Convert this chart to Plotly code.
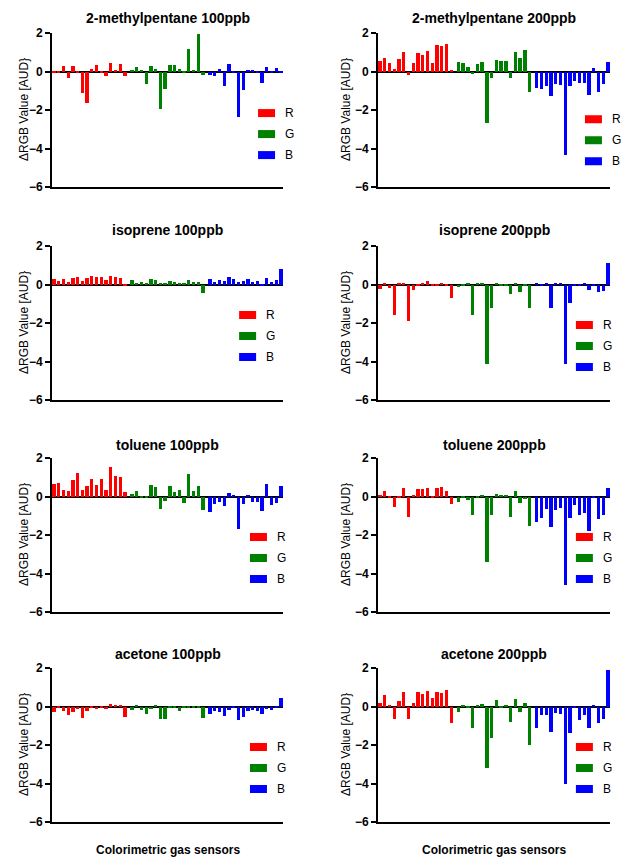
import plotly.graph_objects as go

# ---------------- data ----------------
panel_titles = ["2-methylpentane 100ppb", "2-methylpentane 200ppb",
                "isoprene 100ppb", "isoprene 200ppb",
                "toluene 100ppb", "toluene 200ppb",
                "acetone 100ppb", "acetone 200ppb"]
channels = ["R", "G", "B"]
y_ticks = [-6, -4, -2, 0, 2]
y_title = "ΔRGB Value [AUD}"
x_title = "Colorimetric gas sensors"

mp100_R = [-0.1, -0.1, 0.3, -0.35, 0.3, -0.1, -1.1, -1.65, 0.15, 0.35, -0.05, -0.25, 0.45, 0.1, 0.4, -0.25]
mp100_G = [0.1, 0.25, 0.1, -0.65, 0.3, 0.15, -1.95, -0.9, 0.35, 0.35, 0.15, -0.05, 1.15, 0.1, 1.95, -0.2]
mp100_B = [-0.2, -0.25, 0.15, -0.75, 0.4, -0.1, -2.35, -0.95, 0.05, 0.05, -0.05, -0.6, 0.25, -0.05, 0.2, -0.05]

mp200_R = [0.55, 0.7, 0.45, 0.15, 0.65, 1.0, -0.2, 0.45, 0.95, 0.85, 1.05, 0.45, 1.4, 1.35, 1.45, 0.1]
mp200_G = [0.5, 0.45, 0.25, -0.15, 0.4, 0.5, -2.65, -0.35, 0.6, 0.55, 0.55, -0.35, 1.0, 0.7, 1.1, -1.05]
mp200_B = [-0.85, -0.9, -0.75, -1.25, -0.65, -0.7, -4.35, -0.75, -0.5, -0.6, -0.6, -1.2, 0.2, -1.05, -0.65, 0.5]

iso100_R = [0.3, 0.2, 0.3, 0.15, 0.35, 0.4, 0.2, 0.35, 0.45, 0.4, 0.4, 0.25, 0.45, 0.4, 0.35, -0.05]
iso100_G = [0.25, 0.1, 0.15, 0.05, 0.3, 0.25, 0.1, 0.1, 0.2, 0.15, 0.1, 0.05, 0.25, 0.15, 0.15, -0.45]
iso100_B = [0.3, 0.15, 0.25, 0.2, 0.4, 0.3, 0.15, 0.2, 0.3, 0.15, 0.2, -0.1, 0.35, 0.15, 0.25, 0.8]

iso200_R = [-0.25, 0.05, -0.2, -1.6, 0.05, 0.05, -1.9, -0.3, -0.1, 0.05, 0.2, -0.05, -0.05, 0.1, -0.05, -0.7]
iso200_G = [-0.15, -0.05, 0.05, -1.6, 0.05, 0.05, -4.15, -1.2, 0.05, -0.05, -0.05, -0.5, 0.05, -0.4, -0.05, -1.2]
iso200_B = [0.05, -0.1, 0.05, -1.2, 0.05, 0.1, -4.15, -0.95, -0.05, -0.05, 0.05, -0.3, -0.1, -0.4, -0.35, 1.1]

tol100_R = [0.65, 0.7, 0.35, 0.3, 0.85, 1.2, 0.35, 0.55, 0.9, 0.6, 0.9, 0.35, 1.55, 1.05, 1.0, 0.25]
tol100_G = [0.15, 0.3, -0.05, -0.1, 0.6, 0.5, -0.65, -0.25, 0.55, 0.25, 0.35, -0.35, 1.15, 0.3, 0.55, -0.7]
tol100_B = [-0.8, -0.4, -0.3, -0.5, 0.2, 0.1, -1.7, -0.4, 0.1, -0.3, -0.3, -0.75, 0.65, -0.45, -0.35, 0.55]

tol200_R = [0.05, 0.3, -0.1, -0.55, -0.05, 0.45, -1.05, 0.05, 0.4, 0.4, 0.45, -0.05, 0.45, 0.5, 0.3, -0.4]
tol200_G = [-0.3, -0.1, -0.2, -0.95, -0.1, 0.1, -3.4, -0.95, 0.15, 0.1, 0.05, -1.05, 0.3, -0.35, -0.15, -1.55]
tol200_B = [-1.35, -1.1, -0.65, -1.6, -0.7, -0.6, -4.6, -1.1, -0.45, -0.95, -0.85, -1.8, -0.1, -1.15, -0.95, 0.45]

ace100_R = [-0.3, -0.05, -0.25, -0.45, -0.3, -0.15, -0.6, -0.25, -0.05, -0.15, -0.1, -0.15, 0.15, 0.05, 0.05, -0.55]
ace100_G = [-0.2, 0.05, -0.2, -0.4, -0.15, 0.05, -0.65, -0.65, -0.05, -0.1, -0.25, -0.1, -0.1, -0.1, -0.05, -0.6]
ace100_B = [-0.4, -0.25, -0.3, -0.5, -0.2, -0.1, -0.7, -0.55, -0.25, -0.2, -0.25, -0.4, -0.15, -0.2, -0.1, 0.45]

ace200_R = [0.2, 0.6, 0.1, -0.65, 0.3, 0.75, -0.65, 0.2, 0.75, 0.65, 0.8, 0.45, 0.75, 0.7, 0.85, -0.85]
ace200_G = [-0.3, 0.1, -0.05, -1.1, 0.1, 0.15, -3.2, -1.65, 0.35, -0.05, 0.1, -0.8, 0.4, -0.3, 0.2, -2.0]
ace200_B = [-1.1, -0.45, -0.45, -1.35, -0.35, -0.4, -4.0, -1.4, -0.1, -0.7, -0.45, -1.1, 0.1, -0.85, -0.65, 1.9]

panels = [
    (mp100_R, mp100_G, mp100_B), (mp200_R, mp200_G, mp200_B),
    (iso100_R, iso100_G, iso100_B), (iso200_R, iso200_G, iso200_B),
    (tol100_R, tol100_G, tol100_B), (tol200_R, tol200_G, tol200_B),
    (ace100_R, ace100_G, ace100_B), (ace200_R, ace200_G, ace200_B),
]

# ---------------- style / layout ----------------
W, H = 626, 860
FONT = "Liberation Sans, Arial, sans-serif"
channel_colors = ["#FF0000", "#008000", "#0000FF"]
GROUP_GAP = 0.5
BAR_W = 0.7

# positions below are in page pixels
col_px = [(52, 283), (378, 610)]
ytitle_px = [24, 346]
row_px = [(33, 187), (246, 400), (458, 612), (668, 822)]
title_px = [18, 230, 445, 654]
xlabel_px = 850
# legend anchor per panel: (swatch left in x-domain, R-row centre in y-domain)
legend_anchor = [(0.892, 0.48), (0.892, 0.44), (0.81, 0.552), (0.853, 0.487),
                 (0.857, 0.487), (0.853, 0.487), (0.857, 0.487), (0.853, 0.487)]


def fx(px):
    return px / W


def fy(px):
    return 1 - px / H


fig = go.Figure()
layout = dict(width=W, height=H, margin=dict(l=0, r=0, t=0, b=0, autoexpand=False),
              paper_bgcolor="white", plot_bgcolor="white",
              font=dict(family=FONT, color="black"),
              showlegend=False, bargap=0)
annotations = []
shapes = []

for p, series in enumerate(panels):
    r, c = divmod(p, 2)
    k = p + 1
    xa = f"x{k}" if k > 1 else "x"
    ya = f"y{k}" if k > 1 else "y"
    x0p, x1p = col_px[c]
    y0p, y1p = row_px[r]
    n = len(series[0])
    for g, (vals, name, col) in enumerate(zip(series, channels, channel_colors)):
        xs = [g * (n + GROUP_GAP) + i for i in range(len(vals))]
        fig.add_trace(go.Bar(x=xs, y=vals, name=name, marker_color=col,
                             marker_line_width=0, width=BAR_W,
                             xaxis=xa, yaxis=ya, showlegend=False))
    xmax = 2 * (n + GROUP_GAP) + n - 1
    layout["xaxis" + (str(k) if k > 1 else "")] = dict(
        domain=[fx(x0p), fx(x1p)], anchor=ya, range=[-0.42, xmax + 0.42],
        showline=True, linecolor="black", linewidth=2, automargin=False,
        showticklabels=False, ticks="", showgrid=False, zeroline=False,
    )
    layout["yaxis" + (str(k) if k > 1 else "")] = dict(
        domain=[fy(y1p), fy(y0p)], anchor=xa, range=[-6, 2], tickvals=y_ticks,
        ticks="outside", ticklen=5, tickwidth=2, tickcolor="black",
        tickfont=dict(size=12, weight="bold"), automargin=False,
        showline=True, linecolor="black", linewidth=2,
        showgrid=False, zeroline=True, zerolinecolor="black", zerolinewidth=1.5,
    )
    # y-axis title
    annotations.append(dict(text=y_title, x=fx(ytitle_px[c]), y=fy((y0p + y1p) / 2),
                            xref="paper", yref="paper", textangle=-90,
                            xanchor="center", yanchor="middle", showarrow=False,
                            font=dict(size=12)))
    # panel title
    annotations.append(dict(text=f"<b>{panel_titles[p]}</b>", x=fx((x0p + x1p) / 2),
                            y=fy(title_px[r]), xref="paper", yref="paper",
                            xanchor="center", yanchor="middle", showarrow=False,
                            font=dict(size=14)))
    if r == 3:
        annotations.append(dict(text=f"<b>{x_title}</b>", x=fx((x0p + x1p) / 2),
                                y=fy(xlabel_px), xref="paper", yref="paper",
                                xanchor="center", yanchor="middle", showarrow=False,
                                font=dict(size=12)))
    lx, ly = legend_anchor[p]
    sw = 17 / (x1p - x0p)
    sh = 8 / (y1p - y0p)
    step = 21 / (y1p - y0p)
    for g, (name, col) in enumerate(zip(channels, channel_colors)):
        yc = ly - g * step
        shapes.append(dict(type="rect", xref=f"{xa} domain", yref=f"{ya} domain",
                           x0=lx, x1=lx + sw, y0=yc - sh / 2, y1=yc + sh / 2,
                           fillcolor=col, line=dict(width=0)))
        annotations.append(dict(text=name, xref=f"{xa} domain", yref=f"{ya} domain",
                                x=lx + sw + 8 / (x1p - x0p), y=yc, xanchor="left",
                                yanchor="middle", showarrow=False,
                                font=dict(size=12)))

layout["annotations"] = annotations
layout["shapes"] = shapes
fig.update_layout(**layout)
fig.write_html("out.html", config={"displayModeBar": False},
               post_script="document.body.style.margin='0';document.body.style.overflow='hidden';")
